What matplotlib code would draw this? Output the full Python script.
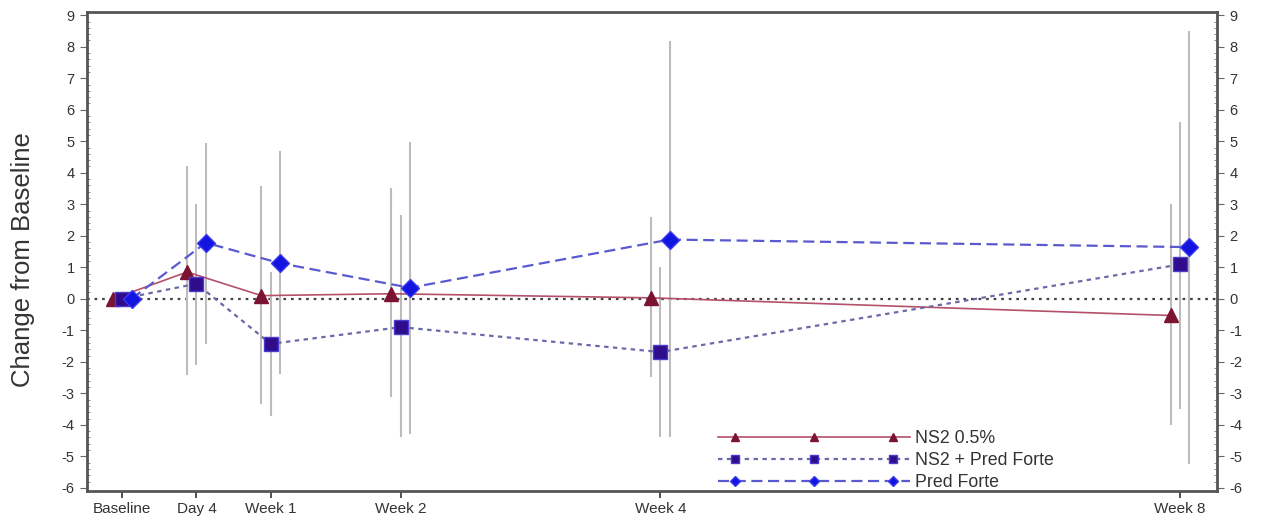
import matplotlib
matplotlib.use("Agg")
import matplotlib.pyplot as plt
import numpy as np
from matplotlib.ticker import MultipleLocator
from matplotlib.legend_handler import HandlerLine2D
from matplotlib.lines import Line2D

plt.rcParams['font.family'] = ['Liberation Sans', 'DejaVu Sans']
plt.rcParams['axes.unicode_minus'] = False

# ---- data ----
visit_labels = ["Baseline", "Day 4", "Week 1", "Week 2", "Week 4", "Week 8"]
visit_days = [0, 4, 8, 15, 29, 57]

ns2_mean = [0.0, 0.85, 0.10, 0.16, 0.03, -0.53]
ns2_low = [0.0, -2.43, -3.35, -3.12, -2.49, -4.02]
ns2_high = [0.0, 4.21, 3.57, 3.51, 2.59, 3.02]

combo_mean = [0.0, 0.48, -1.43, -0.90, -1.69, 1.09]
combo_low = [0.0, -2.10, -3.72, -4.40, -4.39, -3.49]
combo_high = [0.0, 3.00, 0.85, 2.67, 1.00, 5.62]

pf_mean = [0.0, 1.78, 1.13, 0.35, 1.88, 1.64]
pf_low = [0.0, -1.43, -2.38, -4.29, -4.39, -5.24]
pf_high = [0.0, 4.95, 4.68, 4.97, 8.17, 8.49]

series_names = ["NS2 0.5%", "NS2 + Pred Forte", "Pred Forte"]


class FullLineHandler(HandlerLine2D):
    """Markers inset from the ends, line spanning the whole handle."""
    def create_artists(self, legend, orig_handle, xdescent, ydescent, width,
                       height, fontsize, trans):
        artists = super().create_artists(legend, orig_handle, xdescent, ydescent,
                                         width, height, fontsize, trans)
        marker_line = artists[0]
        y0 = marker_line.get_ydata()[0]
        full = Line2D([-xdescent, -xdescent + width], [y0, y0])
        self.update_prop(full, orig_handle, legend)
        full.set_marker("None")
        full.set_transform(trans)
        marker_line.set_linestyle("None")
        return [full, marker_line]


# ---- figure ----
fig = plt.figure(figsize=(12.63, 5.25), dpi=100)
ax = fig.add_axes([0.0689, 0.0648, 0.8947, 0.9122])

x = np.array(visit_days, dtype=float)
offsets = [-0.5, 0.0, 0.5]
err_color = "#bcbcbc"

series = [
    (ns2_mean, ns2_low, ns2_high, dict(color="#b4506a", lw=1.2, ls="-",
                                     marker="^", ms=10, mfc="#7a1430", mec="#7a1430")),
    (combo_mean, combo_low, combo_high, dict(color="#6a6aa8", lw=1.6, ls=(0, (2, 2)),
                                           marker="s", ms=10, mfc="#2e0c8c", mec="#4a3ad0")),
    (pf_mean, pf_low, pf_high, dict(color="#5a5ad0", lw=1.6, ls=(0, (5, 2.5)),
                                   marker="D", ms=9, mfc="#1414e0", mec="#3a3af0")),
]

ax.axhline(0, color="#404040", lw=1.6, ls=(0, (1.2, 2.2)), zorder=1)

handles = []
for (off, (m, lo, hi, st), name) in zip(offsets, series, series_names):
    xs = x + off
    ax.vlines(xs, lo, hi, color=err_color, lw=1.5, zorder=2)
    h, = ax.plot(xs, m, label=name, zorder=3, **st)
    handles.append(h)

ax.set_xlim(-1.9, 59.0)
ax.set_ylim(-6.1, 9.1)
ax.set_xticks(visit_days)
ax.set_xticklabels(visit_labels)
ax.set_yticks(range(-6, 10))
ax.yaxis.set_minor_locator(MultipleLocator(0.2))
ax.tick_params(axis="y", which="major", left=True, right=True, labelleft=True,
               labelright=True, direction="out", length=5, width=0.8,
               labelsize=10.5, colors="#666666", labelcolor="#333333", pad=4)
ax.tick_params(axis="y", which="minor", left=True, right=True, direction="in",
               length=2.5, width=0.6, colors="#777777")
ax.tick_params(axis="x", which="major", direction="out", length=5, width=1.2,
               labelsize=11, colors="#333333", pad=3)
ax.set_ylabel("Change from Baseline", fontsize=18.5, color="#333333")
ax.yaxis.set_label_coords(-0.046, 0.484)

for sp in ax.spines.values():
    sp.set_linewidth(2.0)
    sp.set_color("#555555")

hmap = {h: FullLineHandler(marker_pad=1.0) for h in handles}
leg = ax.legend(handles=handles, loc="upper left", bbox_to_anchor=(0.558, 0.127),
                frameon=False, fontsize=12.8, numpoints=3, handlelength=10.85,
                handletextpad=0.28, labelspacing=0.28, markerscale=0.55,
                borderpad=0, borderaxespad=0, handler_map=hmap)
for t in leg.get_texts():
    t.set_color("#333333")

fig.savefig("out.png", dpi=100)
